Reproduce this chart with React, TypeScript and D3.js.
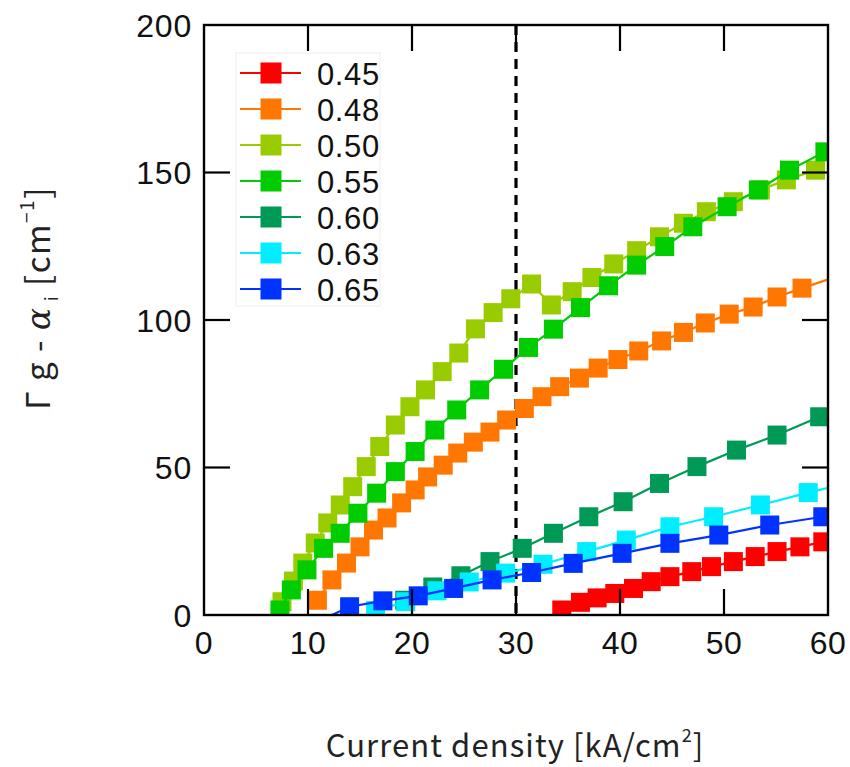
import React from 'react';
import * as d3 from 'd3';

const W = 850;
const H = 767;
const PLOT = { left: 204, right: 828, top: 25, bottom: 615 };

const xTicks = [0, 10, 20, 30, 40, 50, 60];
const yTicks = [0, 50, 100, 150, 200];
const dashedX = 30;

const seriesNames = ['0.45', '0.48', '0.50', '0.55', '0.60', '0.63', '0.65'];
const seriesColors = ['#ff0000', '#ff7700', '#99cc00', '#00cc00', '#009955', '#00eeff', '#0033ff'];

const s045: [number, number][] = [
  [34.4, 1.7], [36.2, 4.3], [37.8, 5.8], [39.5, 7.3], [41.3, 9.0], [43.0, 11.3], [44.8, 13.0],
  [46.9, 14.7], [48.8, 16.4], [50.9, 18.1], [53.0, 19.8], [55.1, 21.5], [57.3, 23.1], [59.5, 24.8],
];
const s048: [number, number][] = [
  [10.9, 5.0], [12.3, 11.9], [13.7, 17.6], [15.0, 23.1], [16.3, 28.8], [17.6, 32.9], [19.0, 38.0],
  [20.3, 42.4], [21.5, 46.8], [23.0, 50.8], [24.4, 54.9], [25.9, 58.6], [27.5, 62.0], [29.1, 66.1],
  [30.8, 70.0], [32.5, 74.0], [34.2, 77.4], [36.1, 80.3], [37.9, 83.7], [39.8, 86.6], [41.8, 89.5],
  [44.0, 92.9], [46.1, 95.8], [48.2, 99.0], [50.5, 102.0], [52.8, 104.4], [55.1, 107.8], [57.5, 110.8],
  [61.5, 115.5],
];
const s050: [number, number][] = [
  [7.5, 4.5], [8.6, 11.5], [9.5, 17.6], [10.7, 24.4], [11.9, 31.2], [13.1, 37.3], [14.3, 43.5],
  [15.6, 50.3], [16.9, 57.1], [18.4, 64.4], [19.8, 70.6], [21.3, 76.3], [22.9, 82.5], [24.5, 88.8],
  [26.1, 97.0], [27.8, 102.5], [29.5, 107.2], [31.5, 112.2], [33.4, 105.1], [35.4, 109.6], [37.3, 114.4],
  [39.4, 119.0], [41.6, 123.5], [43.8, 128.2], [46.1, 132.8], [48.3, 136.7], [50.9, 140.1], [53.5, 144.1],
  [56.0, 147.5], [58.8, 150.8],
];
const s055: [number, number][] = [
  [7.3, 1.7], [8.4, 8.5], [9.9, 15.3], [11.5, 22.6], [13.1, 27.7], [14.8, 34.5], [16.6, 41.3],
  [18.4, 48.6], [20.3, 55.4], [22.2, 62.7], [24.3, 69.5], [26.5, 76.3], [28.8, 83.3], [31.2, 90.7],
  [33.6, 96.9], [36.2, 104.2], [38.9, 111.6], [41.6, 118.6], [44.3, 124.9], [47.0, 131.6], [50.3, 138.4],
  [53.3, 144.1], [56.3, 150.8], [59.7, 157.0],
];
const s060: [number, number][] = [
  [19.3, 5.0], [22.0, 9.5], [24.7, 13.3], [27.5, 18.1], [30.6, 22.6], [33.6, 27.7], [37.0, 33.3],
  [40.3, 38.4], [43.8, 44.6], [47.4, 50.3], [51.2, 55.9], [55.1, 61.0], [59.2, 67.2],
];
const s063: [number, number][] = [
  [16.5, 1.5], [19.4, 4.5], [22.4, 8.2], [25.5, 11.2], [29.0, 14.2], [32.6, 17.2], [36.8, 21.5],
  [40.6, 25.4], [44.8, 29.9], [49.0, 33.3], [53.5, 37.3], [58.1, 41.5], [61.5, 44.4],
];
const s065: [number, number][] = [
  [10.5, -3.0], [14.0, 2.8], [17.2, 4.8], [20.6, 6.5], [24.0, 9.0], [27.7, 11.9], [31.5, 14.4],
  [35.5, 17.5], [40.2, 20.9], [44.8, 24.3], [49.5, 27.1], [54.4, 30.5], [59.5, 33.3],
];

const seriesData = [s045, s048, s050, s055, s060, s063, s065];

const x = d3.scaleLinear().domain([0, 60]).range([PLOT.left, PLOT.right]);
const y = d3.scaleLinear().domain([0, 200]).range([PLOT.bottom, PLOT.top]);

const MK = 19;
const LMK = 21;
const TICK = 26;
const tickFont = '"Liberation Sans", Arial, sans-serif';
const titleFont = '"Noto Sans CJK JP", "Noto Sans", sans-serif';
const legendFont = '"Liberation Sans Narrow", "Liberation Sans", Arial, sans-serif';

export default function App() {
  const line = d3
    .line<[number, number]>()
    .x((d) => x(d[0]))
    .y((d) => y(d[1]));

  const legendX0 = 236;
  const legendY0 = 53;
  const legendRow = 36;

  return (
    <svg
      width={W}
      height={H}
      viewBox={`0 0 ${W} ${H}`}
      style={{ position: 'absolute', left: 0, top: 0, background: '#fff' }}
    >
      <defs>
        <clipPath id="plotClip">
          <rect x={PLOT.left} y={PLOT.top} width={PLOT.right - PLOT.left} height={PLOT.bottom - PLOT.top} />
        </clipPath>
      </defs>
      <rect x={0} y={0} width={W} height={H} fill="#fff" />

      {/* dashed vertical line */}
      <line
        x1={x(dashedX)}
        x2={x(dashedX)}
        y1={PLOT.top}
        y2={PLOT.bottom}
        stroke="#000"
        strokeWidth={3.2}
        strokeDasharray="10,7"
      />

      {/* series */}
      <g clipPath="url(#plotClip)">
        {seriesData.map((data, i) => (
          <g key={seriesNames[i]}>
            <path d={line(data) || ''} fill="none" stroke={seriesColors[i]} strokeWidth={2.2} />
            {data.map((d, j) => (
              <rect
                key={j}
                x={x(d[0]) - MK / 2}
                y={y(d[1]) - MK / 2}
                width={MK}
                height={MK}
                fill={seriesColors[i]}
              />
            ))}
          </g>
        ))}
      </g>

      {/* frame */}
      <rect
        x={PLOT.left}
        y={PLOT.top}
        width={PLOT.right - PLOT.left}
        height={PLOT.bottom - PLOT.top}
        fill="none"
        stroke="#000"
        strokeWidth={2.4}
      />

      {/* x ticks */}
      {xTicks.map((t) => (
        <g key={'xt' + t}>
          {t > 0 && t < 60 && (
            <>
              <line x1={x(t)} x2={x(t)} y1={PLOT.bottom} y2={PLOT.bottom - TICK} stroke="#000" strokeWidth={2.2} />
              <line x1={x(t)} x2={x(t)} y1={PLOT.top} y2={PLOT.top + TICK} stroke="#000" strokeWidth={2.2} />
            </>
          )}
          <text
            x={x(t)}
            y={PLOT.bottom + 39}
            textAnchor="middle"
            fontFamily={tickFont}
            fontSize={32}
            letterSpacing={0.5}
            fill="#111"
          >
            {t}
          </text>
        </g>
      ))}

      {/* y ticks */}
      {yTicks.map((t) => (
        <g key={'yt' + t}>
          {t > 0 && t < 200 && (
            <>
              <line x1={PLOT.left} x2={PLOT.left + TICK} y1={y(t)} y2={y(t)} stroke="#000" strokeWidth={2.2} />
              <line x1={PLOT.right} x2={PLOT.right - TICK} y1={y(t)} y2={y(t)} stroke="#000" strokeWidth={2.2} />
            </>
          )}
          <text
            x={PLOT.left - 12}
            y={y(t) + 11.5}
            textAnchor="end"
            fontFamily={tickFont}
            fontSize={32}
            letterSpacing={0.8}
            fill="#111"
          >
            {t}
          </text>
        </g>
      ))}

      {/* legend */}
      <rect x={legendX0} y={legendY0} width={144} height={253} fill="#fff" stroke="#eeeeee" strokeWidth={1} />
      {seriesNames.map((name, i) => {
        const cy = legendY0 + 20 + i * legendRow;
        return (
          <g key={'lg' + name}>
            <line x1={240} x2={301} y1={cy} y2={cy} stroke={seriesColors[i]} strokeWidth={2.2} />
            <rect x={271 - LMK / 2} y={cy - LMK / 2} width={LMK} height={LMK} fill={seriesColors[i]} />
            <text
              x={317}
              y={cy + 11.5}
              fontFamily={legendFont}
              fontSize={31}
              letterSpacing={0.6}
              fill="#111"
            >
              {name}
            </text>
          </g>
        );
      })}

      {/* y axis title */}
      <text
        transform={`translate(50, 298) rotate(-90)`}
        textAnchor="middle"
        fontFamily={titleFont}
        fontSize={33}
        letterSpacing={1.5}
        fill="#222"
      >
        <tspan>Γ g - </tspan>
        <tspan fontStyle="italic" fontFamily='"DejaVu Serif", serif'>α</tspan>
        <tspan fontSize={17} dy={8}> i</tspan>
        <tspan dy={-8}> [cm</tspan>
        <tspan fontSize={19} dy={-16}>−1</tspan>
        <tspan dy={16}>]</tspan>
      </text>

      {/* x axis title */}
      <text
        x={515}
        y={757}
        textAnchor="middle"
        fontFamily={titleFont}
        fontSize={31}
        letterSpacing={1.1}
        fill="#222"
      >
        <tspan>Current density [kA/cm</tspan>
        <tspan fontSize={18} dy={-15}>2</tspan>
        <tspan dy={15}>]</tspan>
      </text>
    </svg>
  );
}
